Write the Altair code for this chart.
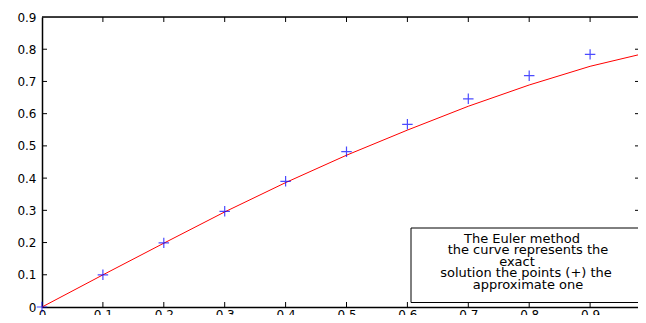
import altair as alt
import pandas as pd

# data
x_vals = [0.0, 0.1, 0.2, 0.3, 0.4, 0.5, 0.6, 0.7, 0.8, 0.9, 1.0]
approx_vals = [0.0, 0.100, 0.199, 0.297, 0.390, 0.482, 0.567, 0.646, 0.718, 0.784, 0.840]
exact_vals = [0.0, 0.0997, 0.198, 0.295, 0.386, 0.471, 0.549, 0.623, 0.689, 0.747, 0.792]
x_ticks = [0.0, 0.1, 0.2, 0.3, 0.4, 0.5, 0.6, 0.7, 0.8, 0.9]
y_ticks = [0.0, 0.1, 0.2, 0.3, 0.4, 0.5, 0.6, 0.7, 0.8, 0.9]
note_lines = ["The Euler method", "the curve represents the", "exact",
              "solution the points (+) the", "approximate one"]

W, H = 596, 290
FONT = "DejaVu Sans"

df = pd.DataFrame({"x": x_vals, "approx": approx_vals, "exact": exact_vals})
xt = pd.DataFrame({"t": x_ticks[1:]})
yt = pd.DataFrame({"t": y_ticks[1:-1]})

xs = alt.Scale(domain=[0, W / 609.0], nice=False, zero=False)
ys = alt.Scale(domain=[0, 0.9], nice=False, zero=False)

lab = "datum.value == 0 ? '0' : format(datum.value, '.1f')"

ax_x = alt.Axis(values=x_ticks, title=None, grid=False, tickSize=0, labelPadding=2,
                labelExpr=lab, domainColor="black", domainWidth=1.5, labelColor="black",
                labelFont=FONT, labelFontSize=12, labelFlush=False, labelOverlap=False)
ax_y = alt.Axis(values=y_ticks, title=None, grid=False, tickSize=0, labelPadding=6,
                labelExpr=lab, domainColor="black", domainWidth=1.5, labelColor="black",
                labelFont=FONT, labelFontSize=12, labelFlush=False, labelOverlap=False)

line = alt.Chart(df).mark_line(color="#ff0000", strokeWidth=1).encode(
    x=alt.X("x:Q", scale=xs, axis=ax_x),
    y=alt.Y("exact:Q", scale=ys, axis=ax_y),
)

plus = alt.Chart(df).mark_point(
    shape="M-1,0L1,0M0,-1L0,1", filled=False, color="#0000ff", size=110, strokeWidth=1.2
).encode(
    x=alt.X("x:Q", scale=xs, axis=ax_x),
    y=alt.Y("approx:Q", scale=ys, axis=ax_y),
)

top_border = alt.Chart().mark_rule(color="black", strokeWidth=1.5).encode(
    x=alt.value(0), x2=alt.value(W), y=alt.value(0))

bottom_ticks = alt.Chart(xt).mark_rule(color="black", strokeWidth=1).encode(
    x=alt.X("t:Q", scale=xs, axis=ax_x), y=alt.value(H), y2=alt.value(H - 5))
top_ticks = alt.Chart(xt).mark_rule(color="black", strokeWidth=1).encode(
    x=alt.X("t:Q", scale=xs, axis=ax_x), y=alt.value(0), y2=alt.value(5))
left_ticks = alt.Chart(yt).mark_rule(color="black", strokeWidth=1).encode(
    y=alt.Y("t:Q", scale=ys, axis=ax_y), x=alt.value(0), x2=alt.value(5))
right_ticks = alt.Chart(yt).mark_rule(color="black", strokeWidth=1).encode(
    y=alt.Y("t:Q", scale=ys, axis=ax_y), x=alt.value(W - 3), x2=alt.value(W))

box = alt.Chart().mark_rect(fill="white", stroke="black", strokeWidth=1).encode(
    x=alt.value(369), x2=alt.value(W + 2), y=alt.value(211), y2=alt.value(285.5))

line_x = [480, 486, 475, 484, 486]
line_y = [222, 233.3, 244.6, 255.9, 267.5]
texts = [
    alt.Chart().mark_text(font=FONT, fontSize=13, color="black", align="center",
                          baseline="middle").encode(
        x=alt.value(lx), y=alt.value(ly), text=alt.value(t))
    for t, lx, ly in zip(note_lines, line_x, line_y)
]

chart = alt.layer(
    line, plus, top_border, bottom_ticks, top_ticks, left_ticks, right_ticks, box, *texts
).properties(
    width=W, height=H,
    autosize=alt.AutoSizeParams(type="none"),
    padding={"left": 34, "top": 9, "right": 0, "bottom": 8},
).configure_view(stroke=None).configure(background="white")

chart.save("out.html", embed_options={"renderer": "svg", "actions": False})
